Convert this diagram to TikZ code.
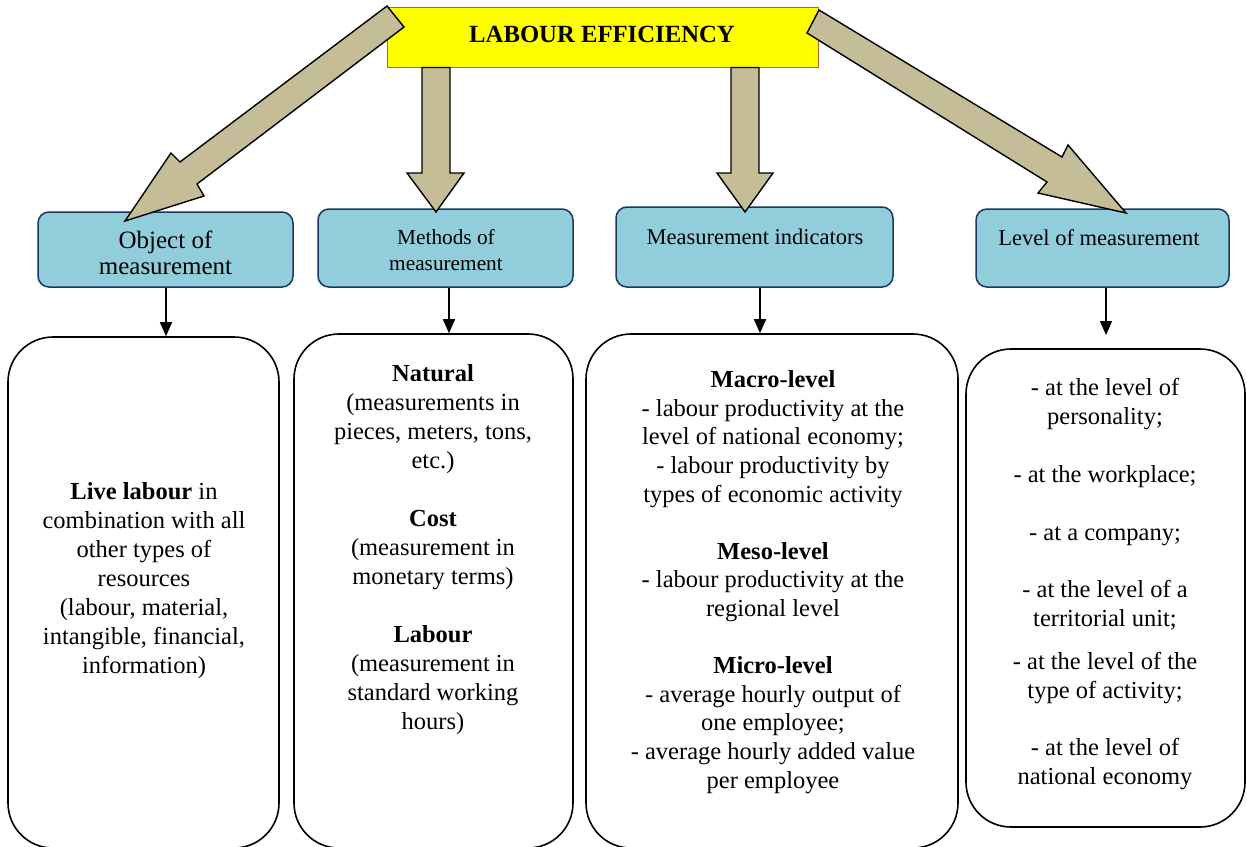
\documentclass[tikz,border=0pt]{standalone}
\usepackage{fontspec}
\setmainfont{Liberation Serif}
\usetikzlibrary{arrows.meta}
\definecolor{titleyellow}{RGB}{255,255,0}
\definecolor{titleborder}{RGB}{180,100,40}
\definecolor{boxblue}{RGB}{146,205,220}
\definecolor{boxnavy}{RGB}{23,55,94}
\definecolor{arrowtan}{RGB}{196,189,151}
\tikzset{
  titlebox/.style={draw=titleborder, line width=1.2pt, fill=titleyellow, minimum width=431pt, minimum height=60pt, inner sep=0pt},
  bluebox/.style={draw=boxnavy, line width=1.5pt, fill=boxblue, rounded corners=11pt, inner sep=0pt},
  lowbox/.style={draw=black, line width=1.6pt, rounded corners=45pt, inner sep=0pt},
  blockarrow/.style={draw=black, line width=1.4pt, fill=arrowtan, line join=miter},
  smallarrow/.style={draw=black, line width=1.5pt, -{Triangle[width=12pt,length=14pt]}},
  lowtext/.style={align=center, font=\fontsize{24.5}{29}\selectfont, inner sep=0pt},
  bluetext/.style={align=center, inner sep=0pt}
}
\begin{document}
\begin{tikzpicture}[x=1pt,y=-1pt]
\useasboundingbox (0,0) rectangle (1247,846);
\clip (0,0) rectangle (1247,846);

% title
\node[titlebox] (t) at (603,37.5) {};
\node[font=\bfseries\fontsize{24.7}{29}\selectfont, inner sep=0pt] (tt) at (602,34) {LABOUR EFFICIENCY};

% blue boxes
\node[bluebox, minimum width=255pt, minimum height=75pt] (b1) at (165.5,249.5) {};
\node[bluebox, minimum width=255pt, minimum height=78pt] (b2) at (445.5,248) {};
\node[bluebox, minimum width=277pt, minimum height=80pt] (b3) at (754.5,247) {};
\node[bluebox, minimum width=253pt, minimum height=78pt] (b4) at (1102.5,248) {};

\node[bluetext, font=\fontsize{25}{26.5}\selectfont] (bt1) at (165.5,253) {Object of\\measurement};
\node[bluetext, font=\fontsize{21.3}{26}\selectfont] (bt2) at (446,250.5) {Methods of\\measurement};
\node[bluetext, font=\fontsize{22.5}{26}\selectfont] (bt3) at (755,236.5) {Measurement indicators};
\node[bluetext, font=\fontsize{22.5}{26}\selectfont] (bt4) at (1099,238) {Level of measurement};

% big block arrows
\draw[blockarrow] (387,6) -- (180,162) -- (171,153) -- (125,221) -- (204,196) -- (197,184) -- (404,27) -- cycle;
\draw[blockarrow] (422,67.5) -- (422,173) -- (407,173) -- (436,212) -- (464,173) -- (450,173) -- (450,67.5) -- cycle;
\draw[blockarrow] (731,67.5) -- (731,173) -- (717,173) -- (745,212) -- (773,173) -- (759,173) -- (759,67.5) -- cycle;
\draw[blockarrow] (819,10) -- (1062,157) -- (1068,145) -- (1126,213) -- (1038,193) -- (1047,182) -- (807,33) -- cycle;

% lower boxes
\node[lowbox, minimum width=271pt, minimum height=511pt] (l1) at (143.5,592.5) {};
\node[lowbox, minimum width=279pt, minimum height=514pt] (l2) at (433.5,591) {};
\node[lowbox, minimum width=372pt, minimum height=514pt] (l3) at (772,591) {};
\node[lowbox, minimum width=279pt, minimum height=478pt] (l4) at (1105.5,588) {};

% small arrows
\draw[smallarrow] (b1.south -| 166,0) -- (l1.north -| 166,0);
\draw[smallarrow] (b2.south -| 449,0) -- (l2.north -| 449,0);
\draw[smallarrow] (b3.south -| 760,0) -- (l3.north -| 760,0);
\coordinate (e4) at (1106,335);
\draw[smallarrow] (b4.south -| e4) -- (e4);

% texts
\node[lowtext] (x1) at (144,580.5) {\textbf{Live labour} in\\combination with all\\other types of\\resources\\(labour, material,\\intangible, financial,\\information)};

\node[lowtext] (x2) at (433,550) {\textbf{Natural}\\(measurements in\\pieces, meters, tons,\\etc.)\\[29pt]\textbf{Cost}\\(measurement in\\monetary terms)\\[29pt]\textbf{Labour}\\(measurement in\\standard working\\hours)};

\node[lowtext, font=\fontsize{24.5}{28.6}\selectfont] (x3) at (773,582) {\textbf{Macro-level}\\- labour productivity at the\\level of national economy;\\- labour productivity by\\types of economic activity\\[28.6pt]\textbf{Meso-level}\\- labour productivity at the\\regional level\\[28.6pt]\textbf{Micro-level}\\- average hourly output of\\one employee;\\- average hourly added value\\per employee};

\node[lowtext] (x4) at (1105,584.5) {- at the level of\\personality;\\[29pt]- at the workplace;\\[29pt]- at a company;\\[28pt]- at the level of a\\territorial unit;\\[14pt]- at the level of the\\type of activity;\\[28pt]- at the level of\\national economy};
\end{tikzpicture}
\end{document}
